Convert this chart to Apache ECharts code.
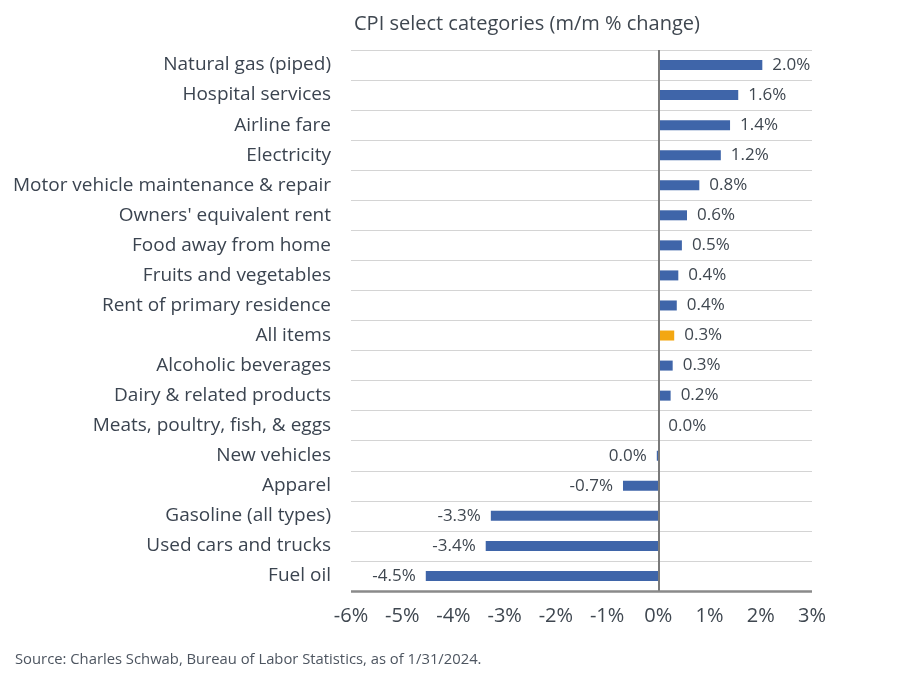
<!DOCTYPE html>
<html>
<head>
<meta charset="utf-8">
<script src="https://cdn.jsdelivr.net/npm/echarts@6/dist/echarts.min.js"></script>
<style>
html,body{margin:0;padding:0;background:#fff;}
#c{width:900px;height:685px;}
</style>
</head>
<body>
<div id="c"></div>
<script>
const categories = [
  "Natural gas (piped)", "Hospital services", "Airline fare", "Electricity",
  "Motor vehicle maintenance & repair", "Owners' equivalent rent", "Food away from home",
  "Fruits and vegetables", "Rent of primary residence", "All items", "Alcoholic beverages",
  "Dairy & related products", "Meats, poultry, fish, & eggs", "New vehicles", "Apparel",
  "Gasoline (all types)", "Used cars and trucks", "Fuel oil"
];
const values = [2.03, 1.56, 1.40, 1.22, 0.80, 0.56, 0.46, 0.39, 0.36, 0.31, 0.28, 0.24, 0.0, -0.03, -0.69, -3.27, -3.37, -4.54];
const labelsText = ["2.0%", "1.6%", "1.4%", "1.2%", "0.8%", "0.6%", "0.5%", "0.4%", "0.4%", "0.3%", "0.3%", "0.2%", "0.0%", "0.0%", "-0.7%", "-3.3%", "-3.4%", "-4.5%"];
const highlight = "All items";
const xTicks = [-6, -5, -4, -3, -2, -1, 0, 1, 2, 3];

const BLUE = '#3f65a9', ORANGE = '#f3a712', TXT = '#3b4450';
const chart = echarts.init(document.getElementById('c'), null, {renderer: 'canvas'});
const FONT = '"Open Sans", "Noto Sans", sans-serif';

chart.setOption({
  animation: false,
  textStyle: {fontFamily: FONT},
  title: [
    {text: 'CPI select categories (m/m % change)', left: 349, top: 9,
     textStyle: {fontFamily: FONT, fontSize: 20, fontWeight: 'normal', color: '#3f4750'}},
    {text: 'Source: Charles Schwab, Bureau of Labor Statistics, as of 1/31/2024.', left: 10, top: 647,
     textStyle: {fontFamily: FONT, fontSize: 14.8, fontWeight: 'normal', color: '#4d5560'}}
  ],
  grid: {left: 351, right: 88, top: 50, bottom: 94, containLabel: false},
  xAxis: {
    type: 'value', min: xTicks[0], max: xTicks[xTicks.length - 1], interval: 1,
    axisLine: {show: false},
    axisTick: {show: false},
    splitLine: {show: false},
    axisLabel: {formatter: v => v + '%', fontSize: 20, color: '#3f4750', margin: 15, fontFamily: FONT}
  },
  yAxis: {
    type: 'category', data: categories, inverse: true,
    axisLine: {show: false},
    axisTick: {show: false},
    splitLine: {show: true, lineStyle: {color: '#d4d4d4', width: 1}},
    axisLabel: {fontSize: 19, color: TXT, margin: 20, fontFamily: FONT}
  },
  series: [{
    type: 'bar',
    barWidth: 10,
    data: values.map((v, i) => ({
      value: v,
      itemStyle: {color: categories[i] === highlight ? ORANGE : BLUE},
      label: {position: (v < 0 ? 'left' : 'right')}
    })),
    label: {
      show: true, distance: 10, fontSize: 17, color: '#3f4750', fontFamily: FONT,
      formatter: p => labelsText[p.dataIndex]
    },
    markLine: {
      silent: true, symbol: 'none', label: {show: false},
      lineStyle: {color: '#7a7a7a', width: 2, type: 'solid'},
      data: [{xAxis: 0}]
    }
  }, {
    type: 'line', data: [],
    markLine: {
      silent: true, symbol: 'none', label: {show: false},
      lineStyle: {color: '#8a8a8a', width: 2.5, type: 'solid'},
      data: [[{coord: [xTicks[0], categories[categories.length-1]], y: '86.3%'}, {coord: [xTicks[xTicks.length-1], categories[categories.length-1]], y: '86.3%'}]]
    }
  }]
});
</script>
</body>
</html>
